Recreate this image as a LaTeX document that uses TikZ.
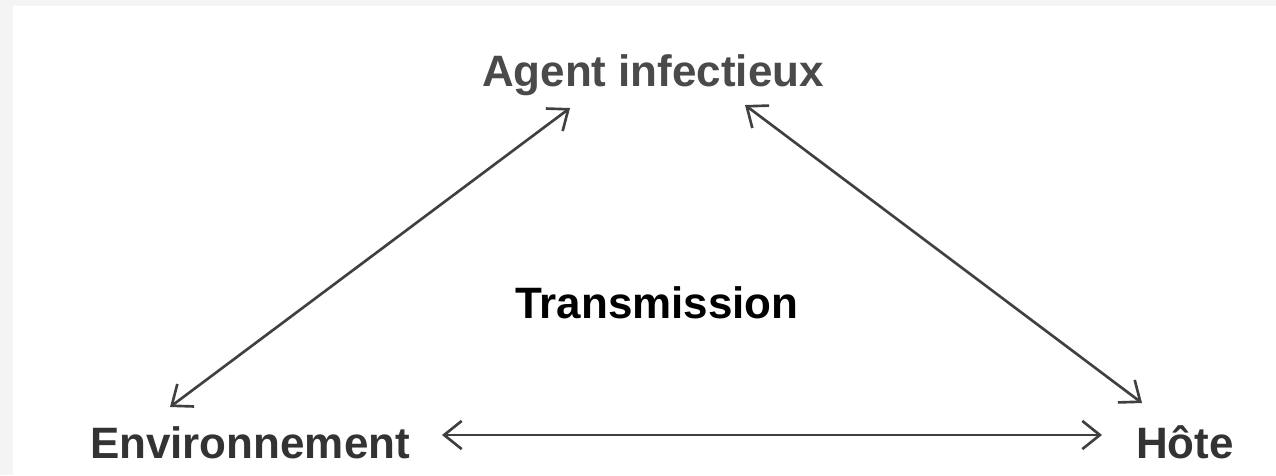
\documentclass[tikz,border=0pt]{standalone}
\usepackage{fontspec}
\setmainfont{Liberation Sans}
\usepackage{tikz}
\usetikzlibrary{arrows.meta,positioning,calc}

\definecolor{framegray}{HTML}{F4F4F4}
\definecolor{labelgray}{HTML}{4A4A4A}
\definecolor{linegray}{HTML}{404040}

\begin{document}
\begin{tikzpicture}[x=0.01cm, y=-0.01cm, >={Straight Barb[length=5pt,width=8pt]}]
\tikzset{
label/.style  = {inner sep=0pt, anchor=base, font=\fontsize{12.5}{15}\selectfont\bfseries, text=labelgray},
coord/.style  = {coordinate},
link/.style   = {<->, draw=linegray, line width=0.75pt},
}

    % frame
    \useasboundingbox (0,0) rectangle (1276,475);
    \fill[framegray] (0,0) rectangle (1276,475);
    \fill[white] (13,6) rectangle (1276,475);

    % Corner nodes
    \node [label]                 (agent) at (653,86)  {Agent infectieux};
    \node [label, text=black!80]  (env)   at (250,458) {Environnement};
    \node [label, text=black!80]  (hote)  at (1185,458) {Hôte};
    \node [label, text=black]     (trans) at (657,318) {Transmission};

    % Arrow ends
    \coordinate (agent_l) at ($(agent.base)+(-83,22)$);
    \coordinate (agent_r) at ($(agent.base)+(92,19)$);
    \coordinate (env_t)   at ($(env.base)+(-80,-51)$);
    \coordinate (env_r)   at ($(env.base)+(192,-23)$);
    \coordinate (hote_t)  at ($(hote.base)+(-43,-55)$);
    \coordinate (hote_l)  at ($(hote.base)+(-83,-23)$);

    % Edges
    \draw [link] (env_t) -- (agent_l);
    \draw [link] (agent_r) -- (hote_t);
    \draw [link] (env_r) -- (hote_l);

\end{tikzpicture}
\end{document}
